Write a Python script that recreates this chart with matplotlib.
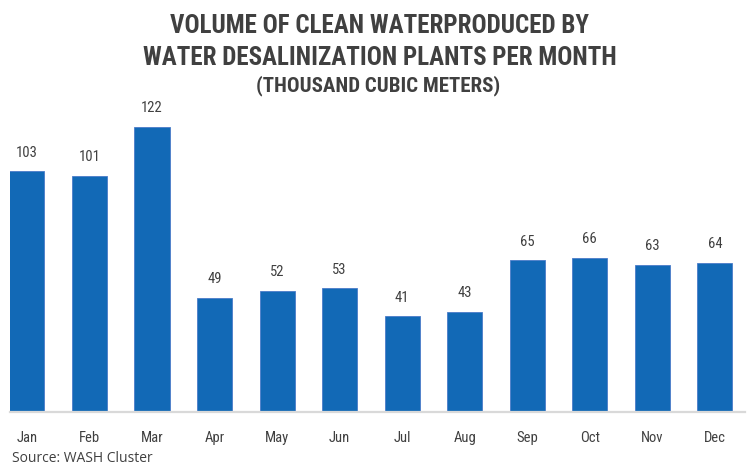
import matplotlib
matplotlib.use("Agg")
from matplotlib import pyplot as plt

# Données : volume mensuel (milliers de m3)
MONTHS = ["Jan", "Feb", "Mar", "Apr", "May", "Jun", "Jul", "Aug", "Sep", "Oct", "Nov", "Dec"]
VOLUMES = [103, 101, 122, 49, 52, 53, 41, 43, 65, 66, 63, 64]

BAR_COLOR = "#1269b6"
TEXT_COLOR = "#404040"
COND = "Roboto Condensed"

fig = plt.figure(figsize=(7.47, 4.70), dpi=100)
# axes : x de 10 a 745 px, y de 412 a 110 px
ax = fig.add_axes([10 / 747, 1 - 412 / 470, 735 / 747, 302 / 470])

x = list(range(len(MONTHS)))
ax.bar(x, VOLUMES, width=0.56, color=BAR_COLOR, edgecolor="#4a7cc9", linewidth=0.6, zorder=2)
for xi, v in zip(x, VOLUMES):
    ax.text(xi, v + 5, str(v), ha="center", va="bottom", fontsize=10.5,
            color=TEXT_COLOR, family=COND)

ax.set_xlim(-0.27, 11.48)
ax.set_ylim(0, 129.3)
ax.set_xticks(x)
ax.set_xticklabels(MONTHS, fontsize=10.5, color=TEXT_COLOR, family=COND)
ax.tick_params(axis="x", length=0, pad=14)
ax.set_yticks([])
for s in ["top", "right", "left"]:
    ax.spines[s].set_visible(False)
ax.spines["bottom"].set_color("#d9d9d9")
ax.spines["bottom"].set_linewidth(1.6)

fig.text(380 / 747, 1 - 26 / 470, "VOLUME OF CLEAN WATERPRODUCED BY", ha="center", va="center",
         fontsize=18, fontweight="bold", color=TEXT_COLOR, family=COND)
fig.text(380 / 747, 1 - 58 / 470, "WATER DESALINIZATION PLANTS PER MONTH", ha="center", va="center",
         fontsize=18, fontweight="bold", color=TEXT_COLOR, family=COND)
fig.text(378 / 747, 1 - 86 / 470, "(THOUSAND CUBIC METERS)", ha="center", va="center",
         fontsize=15, fontweight="bold", color=TEXT_COLOR, family=COND)
fig.text(12 / 747, 1 - 459 / 470, "Source: WASH Cluster", ha="left", va="center",
         fontsize=10, color=TEXT_COLOR, family="Open Sans")

fig.savefig("out.png", dpi=100)
